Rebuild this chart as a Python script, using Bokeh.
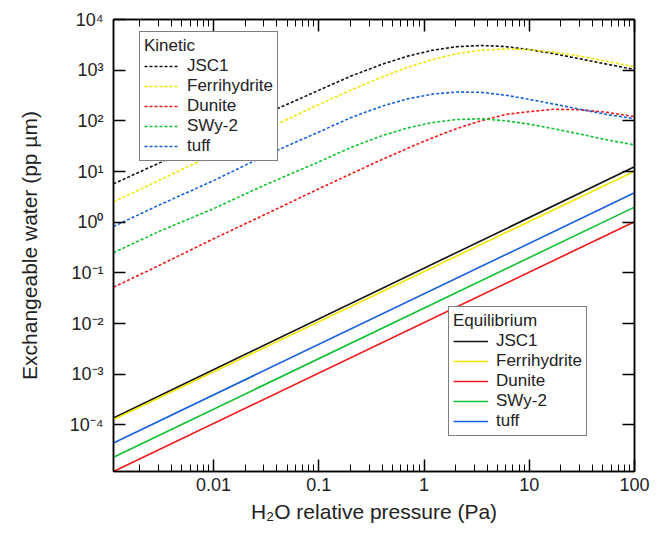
from bokeh.plotting import figure
from bokeh.models import (Range1d, LogAxis, FixedTicker, CustomJSTickFormatter,
                          Legend, LegendItem)
from bokeh.embed import file_html
from bokeh.resources import INLINE

# ---------------- data ----------------
materials = ["JSC1", "Ferrihydrite", "Dunite", "SWy-2", "tuff"]

# Kinetic (dashed) curves
kin_x = [0.00112, 0.003, 0.01, 0.03, 0.1, 0.2, 0.4, 0.7, 1.2, 2, 3.5, 6, 10, 17, 30, 55, 100]
kin_jsc1 = [5.7, 14.5, 46, 133, 400, 756, 1312, 1894, 2471, 2888, 3069, 2920, 2550, 2120, 1680, 1310, 1030]
kin_ferri = [2.5, 6.6, 21.9, 65.2, 210, 401, 735, 1137, 1619, 2089, 2485, 2631, 2538, 2270, 1895, 1494, 1170]
kin_dunite = [0.052, 0.138, 0.47, 1.38, 4.55, 8.9, 17.3, 28.8, 46, 69, 101, 134, 152, 169, 166, 147, 121]
kin_swy2 = [0.25, 0.65, 1.85, 5.3, 15.5, 29.5, 51, 72.5, 92.5, 105.7, 109.8, 100, 86, 70, 55, 42, 33.5]
kin_tuff = [0.82, 2.15, 6.6, 20, 60, 115, 195, 272, 336, 370, 365, 320, 265, 215, 170, 133, 110]

# Equilibrium (solid) lines
eq_x = [0.00112, 100]
eq_jsc1 = [1.37e-4, 12.4]
eq_ferri = [1.27e-4, 10.1]
eq_dunite = [1.2e-5, 1.02]
eq_swy2 = [2.3e-5, 1.98]
eq_tuff = [4.4e-5, 3.8]

x_ticks = [0.01, 0.1, 1, 10, 100]
x_tick_labels = ["0.01", "0.1", "1", "10", "100"]
y_ticks = [1e-4, 1e-3, 1e-2, 1e-1, 1, 10, 100, 1000, 10000]
y_tick_labels = ["10⁻⁴", "10⁻³", "10⁻²", "10⁻¹", "10⁰", "10¹", "10²", "10³", "10⁴"]

colors = ["#111111", "#F2E600", "#F01818", "#10C030", "#1560D8"]
kin_series = [kin_jsc1, kin_ferri, kin_dunite, kin_swy2, kin_tuff]
eq_series = [eq_jsc1, eq_ferri, eq_dunite, eq_swy2, eq_tuff]

FONT = "Liberation Sans"

# ---------------- figure ----------------
p = figure(width=660, height=533, x_axis_type="log", y_axis_type="log",
           x_range=Range1d(0.00112, 100), y_range=Range1d(1.2e-5, 1e4),
           output_backend="svg", toolbar_location=None,
           min_border_left=113, min_border_right=26, min_border_top=19,
           min_border_bottom=62)
p.xgrid.visible = False
p.ygrid.visible = False
p.outline_line_color = "black"
p.outline_line_width = 1.5
p.background_fill_color = "white"
p.border_fill_color = "white"

fmt_code = """
let best = 0; let bd = Infinity;
for (let i = 0; i < vals.length; i++) {
  const d = Math.abs(Math.log10(tick) - Math.log10(vals[i]));
  if (d < bd) { bd = d; best = i; }
}
return labs[best];
"""

minor_x = [m * 10.0 ** e for e in range(-3, 2) for m in range(2, 10)]

xa = p.xaxis[0]
xa.ticker = FixedTicker(ticks=x_ticks, minor_ticks=minor_x)
xa.formatter = CustomJSTickFormatter(args=dict(vals=x_ticks, labs=x_tick_labels), code=fmt_code)
xa.axis_label = "H₂O relative pressure (Pa)"

ya = p.yaxis[0]
ya.ticker = FixedTicker(ticks=y_ticks)
ya.formatter = CustomJSTickFormatter(args=dict(vals=y_ticks, labs=y_tick_labels), code=fmt_code)
ya.axis_label = "Exchangeable water (pp µm)"

for ax in (xa, ya):
    ax.axis_line_width = 1.5
    ax.axis_line_color = "black"
    ax.major_tick_in = 12
    ax.major_tick_out = 0
    ax.major_tick_line_width = 1.5
    ax.minor_tick_in = 7
    ax.minor_tick_out = 0
    ax.minor_tick_line_width = 1
    ax.major_label_text_font = FONT
    ax.major_label_text_font_size = "18px"
    ax.major_label_text_color = "#222222"
    ax.axis_label_text_font = FONT
    ax.axis_label_text_font_size = "21px"
    ax.axis_label_text_font_style = "normal"
    ax.axis_label_text_color = "#222222"
ya.minor_tick_line_color = None
ya.major_label_standoff = 10
ya.axis_label_standoff = 26
xa.major_label_standoff = 6
xa.axis_label_standoff = 6

empty = CustomJSTickFormatter(code="return '';")
top = LogAxis(ticker=FixedTicker(ticks=x_ticks, minor_ticks=minor_x),
              formatter=empty, major_tick_in=12, major_tick_out=0, minor_tick_in=7, minor_tick_out=0,
              axis_line_width=1.5, major_tick_line_width=1.5, minor_tick_line_width=1,
              major_label_standoff=0, major_label_text_font_size="0px")
right = LogAxis(ticker=FixedTicker(ticks=y_ticks), formatter=empty,
                major_tick_in=12, major_tick_out=0, minor_tick_line_color=None,
                axis_line_width=1.5, major_tick_line_width=1.5,
                major_label_standoff=0, major_label_text_font_size="0px")
p.add_layout(top, "above")
p.add_layout(right, "right")

# ---------------- lines ----------------
kin_items, eq_items = [], []
for name, col, ys in zip(materials, colors, kin_series):
    r = p.line(kin_x, ys, line_color=col, line_width=1.6, line_dash="3 2")
    kin_items.append(LegendItem(label=name, renderers=[r]))
for name, col, ys in zip(materials, colors, eq_series):
    r = p.line(eq_x, ys, line_color=col, line_width=1.6)
    eq_items.append(LegendItem(label=name, renderers=[r]))


def make_legend(title, items, loc):
    return Legend(items=items, title=title, location=loc,
                  title_text_font=FONT, title_text_font_size="17px",
                  title_text_font_style="normal", title_text_color="#222222",
                  title_standoff=0,
                  label_text_font=FONT, label_text_font_size="17px",
                  label_text_color="#222222",
                  glyph_width=35, glyph_height=14, label_height=20, label_standoff=8,
                  spacing=0, padding=4, margin=0,
                  border_line_color="black", border_line_width=1.5,
                  background_fill_color="white", background_fill_alpha=1.0)


p.add_layout(make_legend("Kinetic", kin_items, (26, 310)))
p.add_layout(make_legend("Equilibrium", eq_items, (335, 35)))

open("out.html", "w").write(file_html(p, INLINE))
